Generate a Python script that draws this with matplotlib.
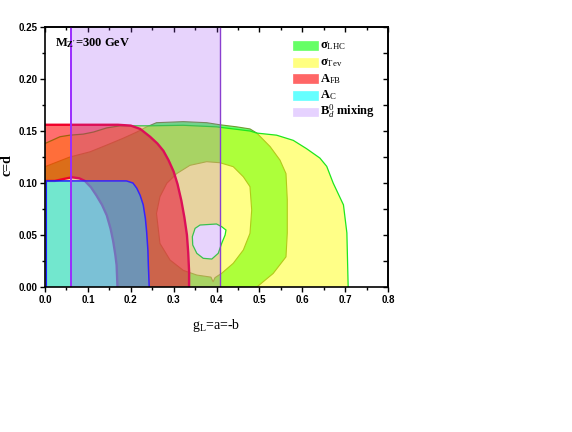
import numpy as np
import matplotlib
matplotlib.use('Agg')
import matplotlib.pyplot as plt
from matplotlib.patches import Polygon, Rectangle
from matplotlib.ticker import MultipleLocator, NullFormatter

# boundaries of the allowed regions (x = g_L, y = c = d)
# sigma_Tev: outer contour, and its small hole
tev_x = [0, 0, 0.035, 0.058, 0.089, 0.113, 0.144, 0.175, 0.245, 0.322, 0.40, 0.439,
         0.478, 0.494, 0.54, 0.579, 0.61, 0.641, 0.657, 0.672, 0.696, 0.704, 0.707]
tev_y = [0, 0.138, 0.1445, 0.146, 0.147, 0.149, 0.153, 0.155, 0.155, 0.1555, 0.154, 0.152,
         0.15, 0.148, 0.146, 0.141, 0.133, 0.124, 0.116, 0.1, 0.079, 0.052, 0]
blob_x = [0.3615, 0.4, 0.412, 0.422, 0.42, 0.412, 0.404, 0.389, 0.369, 0.354, 0.3445, 0.3436, 0.35]
blob_y = [0.0596, 0.0606, 0.058, 0.0548, 0.05, 0.042, 0.0324, 0.0269, 0.0276, 0.0324, 0.0404, 0.0484, 0.0564]

# sigma_LHC: outer contour and inner loop
lhc_x = [0, 0, 0.058, 0.105, 0.144, 0.182, 0.214, 0.237, 0.26, 0.3225, 0.377, 0.408, 0.447,
         0.478, 0.494, 0.525, 0.548, 0.562, 0.565, 0.565, 0.562, 0.532, 0.494]
lhc_y = [0, 0.1157, 0.125, 0.13, 0.1365, 0.143, 0.149, 0.154, 0.158, 0.159, 0.158, 0.156, 0.154,
         0.152, 0.148, 0.135, 0.122, 0.109, 0.084, 0.052, 0.029, 0.013, 0]
loop_x = [0.307, 0.338, 0.377, 0.408, 0.439, 0.4625, 0.478, 0.482, 0.478, 0.4625, 0.439, 0.412,
          0.3965, 0.392, 0.387, 0.354, 0.3225, 0.2915, 0.268, 0.26, 0.268, 0.284]
loop_y = [0.109, 0.117, 0.1205, 0.1195, 0.1157, 0.106, 0.0965, 0.074, 0.0516, 0.0356, 0.0228, 0.0132,
          0.009, 0.005, 0.0095, 0.0115, 0.016, 0.026, 0.042, 0.0708, 0.0868, 0.0997]

# A_FB: outer contour and the inner (lower-left) edge
afb_x = [0, 0.17, 0.2, 0.222, 0.245, 0.262, 0.276, 0.288, 0.3, 0.309, 0.318, 0.325,
         0.331, 0.334, 0.336, 0.336]
afb_y = [0.156, 0.156, 0.1552, 0.152, 0.1445, 0.138, 0.131, 0.122, 0.111, 0.099, 0.083, 0.067,
         0.05, 0.033, 0.015, 0]
hole_x = [0, 0, 0.023, 0.045, 0.063, 0.08, 0.093, 0.107, 0.12, 0.133, 0.144, 0.153, 0.159,
          0.164, 0.167, 0.169]
hole_y = [0, 0.102, 0.102, 0.104, 0.1055, 0.1045, 0.102, 0.096, 0.088, 0.079, 0.069, 0.056,
          0.044, 0.031, 0.021, 0]

# A_C
ac_x = [0.003, 0.003, 0.19, 0.205, 0.214, 0.222, 0.229, 0.234, 0.237, 0.24, 0.241, 0.243]
ac_y = [0, 0.102, 0.102, 0.1, 0.095, 0.088, 0.079, 0.066, 0.053, 0.035, 0.021, 0]

# B_d mixing band
bmix_lo = 0.06
bmix_hi = 0.407

legend_labels = [r'$\mathbf{\sigma}_{\rm LHC}$', r'$\mathbf{\sigma}_{\rm Tev}$',
                 r'$\mathbf{A}_{\rm FB}$', r'$\mathbf{A}_{\rm C}$', r'$\mathbf{B}^{0}_{d}$ mixing']
legend_colors = ['#66ff66', '#ffff80', '#ff6666', '#66ffff', '#e6d2ff']

plt.rcParams['mathtext.fontset'] = 'custom'
plt.rcParams['mathtext.rm'] = 'Liberation Serif'
plt.rcParams['mathtext.it'] = 'Liberation Serif:italic'
plt.rcParams['mathtext.bf'] = 'Liberation Serif:bold'

fig = plt.figure(figsize=(5.72, 4.32), dpi=100)
ax = fig.add_axes([0.0787, 0.3356, 0.5997, 0.6019])


def poly(x, y, **kw):
    ax.add_patch(Polygon(np.column_stack([x, y]), closed=True, **kw))


green_edge = '#6f9a30'
tev_edge = '#1ee61e'

# sigma_LHC (bottom layer), its holes painted white
poly(lhc_x, lhc_y, facecolor='#66ff6e', edgecolor='none', zorder=1)
poly(hole_x, hole_y, facecolor='white', edgecolor='none', zorder=1.1)
poly(loop_x, loop_y, facecolor='white', edgecolor=green_edge, lw=0.8, zorder=1.1)
ax.plot(lhc_x[1:], lhc_y[1:], color=green_edge, lw=0.8, zorder=1.2)

# sigma_Tev
poly(tev_x, tev_y, facecolor=(1, 1, 0, 0.47), edgecolor='none', zorder=2)
ax.plot(tev_x[1:], tev_y[1:], color=tev_edge, lw=0.9, zorder=2.1)
poly(blob_x, blob_y, facecolor='white', edgecolor=tev_edge, lw=0.9, zorder=2.2)

# A_FB
red_x = np.concatenate([afb_x, hole_x[::-1][:-1]])
red_y = np.concatenate([afb_y, hole_y[::-1][:-1]])
poly(red_x, red_y, facecolor=(1, 0, 0, 0.57), edgecolor='none', zorder=3)
ax.plot(afb_x, afb_y, color='#f0002a', lw=1.7, zorder=3.1)
ax.plot(hole_x[1:], hole_y[1:], color='#f0002a', lw=1.7, zorder=3.1)

# A_C
poly(ac_x, ac_y, facecolor=(20 / 255, 215 / 255, 1, 0.6), edgecolor='none', zorder=4)
ax.plot(ac_x, ac_y, color='#1a1aff', lw=1.1, zorder=4.1)

# B_d mixing
ax.axvspan(bmix_lo, bmix_hi, facecolor=(155 / 255, 68 / 255, 243 / 255, 0.23), edgecolor='none', zorder=5)
ax.axvline(bmix_lo, color='#9a2cff', lw=1.4, zorder=6)
ax.axvline(bmix_hi, color='#8a3fd0', lw=1.0, zorder=6)

ax.set_xlim(0, 0.8)
ax.set_ylim(0, 0.25)

# legend
for i, (lab, col) in enumerate(zip(legend_labels, legend_colors)):
    yc = 0.929 - 0.064 * i
    ax.add_patch(Rectangle((0.723, yc - 0.017), 0.073, 0.034, transform=ax.transAxes,
                           facecolor=col, edgecolor=col, lw=0.5, zorder=7))
    ax.text(0.802, yc, lab, transform=ax.transAxes, va='center', ha='left',
            fontsize=9, family='Liberation Serif', fontweight='bold', zorder=7)

ax.text(0.023, 0.2346, r"$\mathbf{M}_{\mathbf{Z'}}$=300 GeV", va='center', ha='left',
        fontsize=9, family='Liberation Serif', fontweight='bold', zorder=7)

# axes styling
for s in ax.spines.values():
    s.set_linewidth(1.2)
    s.set_zorder(8)
ax.xaxis.set_major_locator(MultipleLocator(0.1))
ax.xaxis.set_minor_locator(MultipleLocator(0.05))
ax.yaxis.set_major_locator(MultipleLocator(0.05))
ax.yaxis.set_minor_locator(MultipleLocator(0.025))
ax.set_xticklabels(['%.1f' % v for v in ax.get_xticks()])
ax.set_yticklabels(['%.2f' % v for v in ax.get_yticks()])
ax.tick_params(which='both', direction='out', width=1.0, top=False, right=False,
               labelsize=7, pad=2)
ax.tick_params(which='major', length=3.5)
ax.tick_params(which='minor', length=2)
for lab in ax.get_xticklabels() + ax.get_yticklabels():
    lab.set_fontweight('bold')
    lab.set_family('Liberation Sans')

secx = ax.secondary_xaxis('top')
secx.xaxis.set_major_locator(MultipleLocator(0.1))
secx.xaxis.set_minor_locator(MultipleLocator(0.05))
secx.xaxis.set_major_formatter(NullFormatter())
secx.tick_params(which='both', direction='in', width=1.0)
secx.tick_params(which='major', length=3.5)
secx.tick_params(which='minor', length=2)
secx.spines['top'].set_linewidth(1.2)

secy = ax.secondary_yaxis('right')
secy.yaxis.set_major_locator(MultipleLocator(0.05))
secy.yaxis.set_minor_locator(MultipleLocator(0.025))
secy.yaxis.set_major_formatter(NullFormatter())
secy.tick_params(which='both', direction='in', width=1.0)
secy.tick_params(which='major', length=3.5)
secy.tick_params(which='minor', length=3.5)
secy.spines['right'].set_linewidth(1.2)

ax.set_xlabel(r'g$_{\rm L}$=a=-b', family='Liberation Serif', fontsize=10)
ax.set_ylabel('c=d', family='Liberation Serif', fontsize=10, fontweight='bold')
ax.xaxis.set_label_coords(0.5, -0.115)
ax.yaxis.set_label_coords(-0.093, 0.469)

fig.savefig('out.png', dpi=100)
